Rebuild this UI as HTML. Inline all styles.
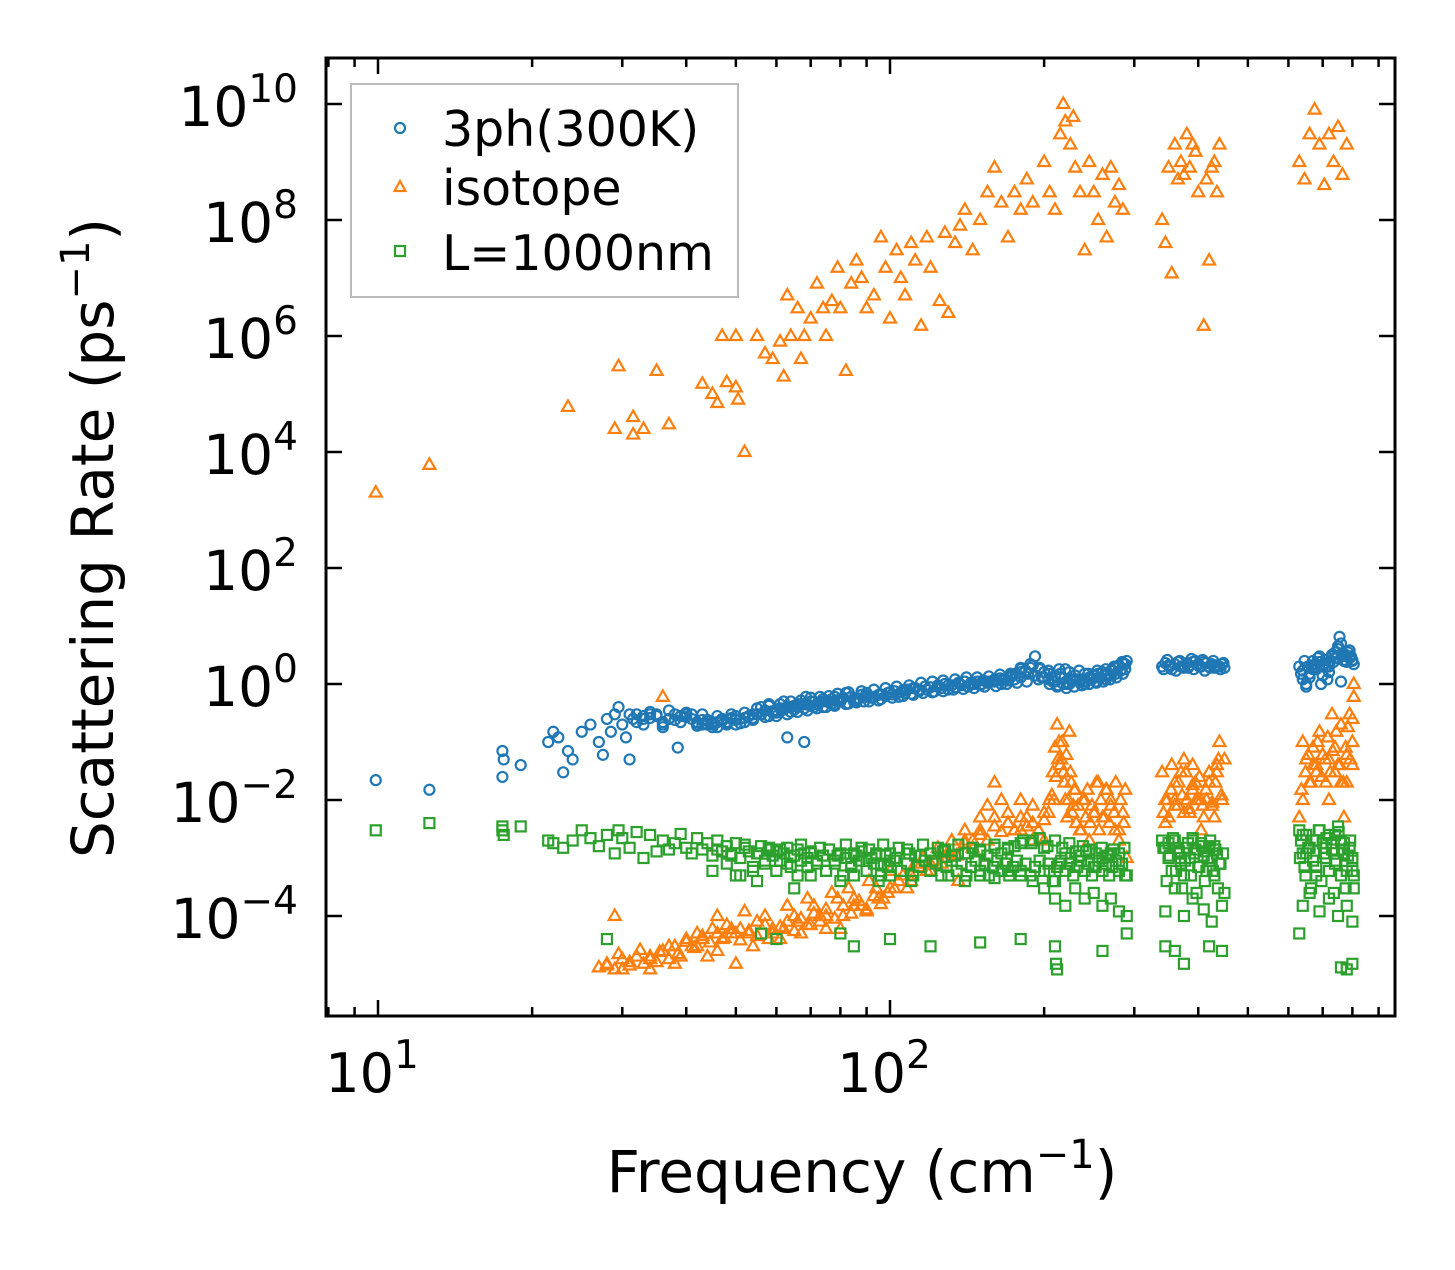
<!DOCTYPE html>
<html><head><meta charset="utf-8"><style>
html,body{margin:0;padding:0;background:#fff}
svg text{font-family:"DejaVu Sans","Liberation Sans",sans-serif;fill:#000}
</style></head><body>
<svg id="chart" width="1455" height="1265" viewBox="0 0 1455 1265" xmlns="http://www.w3.org/2000/svg">
<g id="marks"></g>
<rect x="326" y="58" width="1069" height="958" fill="none" stroke="#000" stroke-width="3"/>
<g id="axes"></g>
<text x="862" y="1192" font-size="58" text-anchor="middle">Frequency (cm<tspan font-size="40" dy="-24">−1</tspan><tspan dy="24">)</tspan></text>
<text transform="translate(113,538) rotate(-90)" font-size="58" text-anchor="middle">Scattering Rate (ps<tspan font-size="40" dy="-24">−1</tspan><tspan dy="24">)</tspan></text>
<g>
<rect x="351" y="84" width="387" height="213" fill="#fff" stroke="#bbb" stroke-width="2"/>
<circle cx="400" cy="128" r="5" fill="none" stroke="#1f77b4" stroke-width="2.2"/>
<text x="442" y="146" font-size="49">3ph(300K)</text>
<path d="M400,181 L405.5,191 L394.5,191 Z" fill="none" stroke="#ff7f0e" stroke-width="2.2"/>
<text x="442" y="205" font-size="49">isotope</text>
<rect x="395" y="246" width="10" height="10" fill="none" stroke="#2ca02c" stroke-width="2.2"/>
<text x="442" y="270" font-size="49">L=1000nm</text>
</g>
</svg>
<script>
// ---- data: 3ph (blue) ----
const blueFreqA=[9.9,12.6,17.5,17.6,17.5,19,21.5,22,22.5,23,23.5,24,25,26,27,27.5,28,28.5,29,29.5,30,30.5,31,31.5,32,33,34,35,36,37,38,38.5,39,40,41,42,43,44,45,46,47,48,49,50,52,54,56,58,60,62,63,64,66,68,68.5,70,72,74,76,78,80,82,84,86,88,90];
const blueRateA=[0.022,0.015,0.07,0.05,0.025,0.04,0.1,0.15,0.12,0.03,0.07,0.05,0.15,0.2,0.1,0.06,0.25,0.15,0.3,0.4,0.2,0.12,0.05,0.25,0.3,0.25,0.3,0.28,0.22,0.25,0.3,0.08,0.28,0.3,0.25,0.22,0.2,0.24,0.2,0.22,0.25,0.22,0.25,0.28,0.26,0.3,0.4,0.45,0.35,0.5,0.12,0.4,0.45,0.1,0.6,0.5,0.45,0.55,0.5,0.6,0.55,0.7,0.6,0.5,0.65,0.7];
const blueFreqB=[31,33,35,37,39,41,43,45,47,49,51,53,55,57,59,61,63,65,67,69,71,73,75,77,79,81,84,87,90,93,96,99,102,105,108,111,114,117,120,124,128,132,136,140,144,148,152,156,160,164,168,172,176,180,184,188,192,196,200,205,210,215,220,225,230,235,240,245,250,255,260,265,270,275,280,285,290];
const blueRateB=[0.3,0.28,0.3,0.25,0.28,0.3,0.24,0.22,0.24,0.26,0.25,0.28,0.3,0.35,0.32,0.38,0.4,0.42,0.45,0.44,0.5,0.48,0.52,0.55,0.5,0.58,0.6,0.56,0.62,0.6,0.66,0.7,0.75,0.72,0.8,0.85,0.8,0.9,0.88,0.95,1.0,0.95,1.05,1.1,1.0,1.1,1.15,1.1,1.2,1.25,1.2,1.4,1.5,1.8,1.7,1.9,3.0,1.8,1.6,1.5,1.4,1.5,1.8,1.2,1.4,1.2,1.5,1.3,1.4,1.5,1.6,1.5,1.7,1.9,2.1,2.3,2.5];
const blueFreqC=[32,34,36,38,40,42,44,46,48,50,52,54,56,58,60,62,64,66,68,70,72,74,76,78,80,83,86,89,92,95,98,101,104,107,110,114,118,122,126,130,134,138,142,146,150,155,160,165,170,175,180,186,192,198,204,210,216,222,228,234,240,246,252,258,264,270,276,282,288];
const blueRateC=[0.22,0.26,0.2,0.24,0.27,0.2,0.23,0.18,0.21,0.24,0.22,0.26,0.3,0.28,0.32,0.36,0.33,0.4,0.38,0.42,0.45,0.4,0.48,0.44,0.5,0.46,0.55,0.5,0.58,0.52,0.62,0.66,0.6,0.7,0.68,0.75,0.8,0.74,0.85,0.8,0.88,0.95,0.9,1.0,0.95,1.05,1.1,1.0,1.15,1.2,1.3,1.5,1.4,1.3,1.2,1.1,1.3,1.0,1.2,1.1,1.0,1.2,1.1,1.3,1.2,1.4,1.5,1.7,1.8];
const blueFreqD=[44,47,50,53,56,59,62,65,68,71,74,77,80,85,90,95,100,106,112,118,124,130,137,144,151,158,165,172,180,190,200,208,212,218,224,232,240,248,256,264,272,280,288];
const blueRateD=[0.2,0.23,0.2,0.28,0.3,0.34,0.38,0.36,0.45,0.4,0.5,0.46,0.55,0.5,0.6,0.65,0.72,0.78,0.85,0.8,0.9,0.95,1.0,1.05,1.0,1.1,1.15,1.3,1.6,2.1,1.3,1.1,0.9,1.0,1.0,1.2,1.1,1.2,1.3,1.4,1.7,2.0,2.2];
const blueFreqE=[340,345,350,355,360,365,370,375,380,385,390,395,400,405,410,415,420,425,430,435,440,445,450,342,352,362,372,382,392,402,412,422,432,442,348,368,388,408,428,448];
const blueRateE=[2.0,2.3,2.1,1.8,2.2,2.4,2.0,1.9,2.3,2.1,2.4,2.5,2.2,2.0,2.4,2.3,2.0,2.2,1.9,2.1,2.0,2.2,1.9,1.8,2.0,1.7,2.0,1.9,1.8,2.0,1.7,1.9,2.1,1.8,2.6,2.5,2.7,2.6,2.5,2.3];
const blueFreqF=[630,635,640,645,650,655,660,665,670,675,680,685,690,695,700,705,710,715,720,725,730,735,740,745,750,755,760,765,770,775,780,785,790,795,800,805,640,660,680,700,720,740,760,780,800,650,670,690,710,730,750,770,790];
const blueRateF=[2.0,1.5,1.2,2.5,0.9,2.0,1.5,2.1,2.5,2.0,1.8,2.8,3.0,1.0,1.4,2.2,2.6,1.2,2.0,2.5,3.0,2.4,3.5,2.8,4.0,6.5,5.0,3.0,2.5,3.2,2.4,3.5,2.8,3.0,2.5,2.2,1.7,1.3,2.2,2.0,1.6,2.8,1.1,3.0,2.6,1.0,1.8,2.4,2.0,3.2,4.5,2.6,3.8];
const blueFreqG=[33,36,39,42,45,48,51,54,57,60,63,66,69,72,75,78,82,86,91,96,101,106,111,116,121,127,133,139,146,153,161,169,177,185,195,205,213,221,229,237,245,253,261,269,277,285];
const blueRateG=[0.2,0.18,0.22,0.19,0.18,0.2,0.21,0.24,0.27,0.28,0.3,0.33,0.35,0.38,0.4,0.42,0.45,0.48,0.5,0.55,0.58,0.62,0.65,0.7,0.72,0.75,0.8,0.82,0.85,0.9,0.92,1.0,1.05,1.1,1.2,1.0,0.95,0.85,0.9,0.95,1.0,1.05,1.1,1.2,1.3,1.5];
const blueFreqH=[34,37,40,43,46,49,52,55,58,61,64,67,70,73,76,79,83,88,93,98,103,109,115,121,127,134,141,148,156,164,172,180,188,196,204,214,224,234,244,254,264,274,284];
const blueRateH=[0.33,0.35,0.32,0.3,0.28,0.3,0.32,0.38,0.42,0.45,0.5,0.52,0.58,0.6,0.62,0.68,0.72,0.75,0.8,0.85,0.9,0.95,1.05,1.1,1.15,1.2,1.3,1.3,1.35,1.45,1.5,1.9,2.2,1.9,1.7,1.8,1.6,1.7,1.5,1.7,1.8,2.0,2.4];
// ---- data: isotope (orange) ----
const isoFreqA=[9.9,12.6,23.5,29.5,29,31.5,31.5,33,35,37,43,45,46,47,48,50,50,50.5,52,55,57,59,61,62,63,64,66,67,68,70,72,74,75,77,79,80,82,84,86,88,90,93,96,98,100,103,105,107,110,112,115,118,120,125,128,130,134,137,140,145,150,155,160,165,170,175,180,185,190,200,205,210,215,218,220,225,228,230,235,240,245,250,255,260,265,270,275,280,285,340,345,350,355,360,365,370,375,380,385,390,395,400,410,415,420,425,430,435,440,630,645,660,675,690,705,720,735,750,765,780,795,805];
const isoRateA=[2e3,6e3,6e4,3e5,2.5e4,4e4,2e4,2.5e4,2.5e5,3e4,1.5e5,1e5,7e4,1e6,1.6e5,1e6,1.3e5,8e4,1e4,1e6,5e5,4e5,8e5,2e5,5e6,1e6,3e6,4e5,1e6,2e6,8e6,3e6,1e6,4e6,1.5e7,3e6,2.5e5,8e6,2e7,1e7,3e6,5e6,5e7,1.5e7,2e6,3e7,1e7,5e6,4e7,2e7,1.5e6,5e7,1.5e7,4e6,6e7,2.5e6,4e7,8e7,1.5e8,3e7,1e8,3e8,8e8,2e8,5e7,3e8,1.5e8,5e8,2e8,1e9,3e8,1.5e8,3e9,1e10,5e9,2e9,6e9,8e8,3e8,3e7,1e9,3e8,1e8,6e8,5e7,8e8,2e8,4e8,1.5e8,1e8,4e7,8e8,1.2e7,2e9,5e8,1e9,6e8,3e9,8e8,2e9,1.5e9,3e8,1.5e6,5e8,2e7,8e8,1e9,3e8,2e9,1e9,5e8,3e9,8e9,2e9,4e8,3e9,1e9,4e9,6e8,2e9];
const isoFreqB=[36,27,28,29,29,30,31,32,33,34,35,36,37,38,39,40,41,42,43,44,45,46,47,48,49,50,51,52,53,55,57,59,61,63,65,67,69,71,73,75,77,79,81,83,85,88,91,94,97,100,104,108,112,116,120,124,128,132,136,140,145,150,155,160,165,170,175,180,185,190,195,200,205,208,210,212,214,216,218,220,222,224,226,228,230,235,240,245,250,255,260,265,270,275,280,285,290];
const isoRateB=[0.6,1.3e-5,1.5e-5,1.2e-5,1e-4,1.8e-5,1.4e-5,2e-5,1.5e-5,1.2e-5,1.6e-5,2.5e-5,1.8e-5,3e-5,2e-5,4e-5,3e-5,5e-5,4e-5,2e-5,6e-5,1e-4,4e-5,7e-5,5e-5,1.5e-5,6e-5,1.2e-4,5e-5,8e-5,1e-4,6e-5,4e-5,1.5e-4,1e-4,5e-5,2e-4,1.5e-4,1e-4,6e-5,2.5e-4,2e-4,1e-4,3e-4,2e-4,1.5e-4,4e-4,3e-4,2e-4,6e-4,4e-4,3e-4,8e-4,1e-3,6e-4,1.5e-3,1e-3,2e-3,4e-4,3e-3,2e-3,5e-3,8e-3,2e-2,1e-2,6e-3,3e-3,1e-2,5e-3,8e-3,3e-3,2e-3,1e-2,3e-2,8e-2,0.2,0.1,5e-2,3e-2,1e-2,5e-3,0.15,2e-2,8e-3,1.5e-2,3e-3,1e-2,2e-3,6e-3,2e-2,5e-3,1.5e-2,1e-2,3e-3,2e-3,6e-3,1e-3];
const isoFreqC=[28,29.5,31,32.5,34,35.5,37,38.5,40,41.5,43,44.5,46,47.5,49,51,53,55,57,59,61,63,65,67,69,71,73,75,78,81,84,87,90,93,96,99,30,34,38,42,46,50,54,58,62,66,70,75,80,85,90,95];
const isoRateC=[1.4e-5,2.2e-5,1.6e-5,2.6e-5,1.8e-5,2.4e-5,3e-5,2.2e-5,3.6e-5,2.8e-5,4.5e-5,3.5e-5,5e-5,4.2e-5,6e-5,3.8e-5,5.5e-5,4.5e-5,7e-5,5e-5,6.5e-5,8e-5,5.5e-5,9e-5,7e-5,1.1e-4,8e-5,1.3e-4,9e-5,1.5e-4,1.1e-4,1.8e-4,1.3e-4,2.2e-4,1.6e-4,2.5e-4,1.2e-5,2e-5,1.5e-5,3e-5,2.5e-5,5e-5,3e-5,4e-5,6e-5,8e-5,7e-5,1e-4,6e-5,1.5e-4,1.2e-4,2e-4];
const isoFreqD=[102,106,110,114,118,122,126,130,135,140,145,150,155,160,165,170,175,180,185,190,195,200,204,207,211,215,219,223,227,231,236,241,246,251,256,262,268,274,280,286,100,110,120,130,140,150,160,170,180,190,200,209,213,217,221,225,229,233,238,243,248,253,258,264,270,276,282,288];
const isoRateD=[3e-4,5e-4,4e-4,7e-4,6e-4,9e-4,8e-4,1.3e-3,1.1e-3,1.8e-3,1.5e-3,2.5e-3,2e-3,3.5e-3,2.8e-3,4e-3,3e-3,5e-3,3.5e-3,4e-3,3e-3,4.5e-3,6e-3,1.2e-2,2.5e-2,4e-2,2e-2,1e-2,6e-3,4e-3,3e-3,5e-3,4e-3,6e-3,3e-3,5e-3,4e-3,6e-3,3e-3,4e-3,3e-4,5e-4,8e-4,1.2e-3,2e-3,3e-3,5e-3,4e-3,3e-3,2e-3,6e-3,1e-2,5e-2,0.1,6e-2,3e-2,1.5e-2,8e-3,1e-2,1.5e-2,8e-3,2e-2,1e-2,1.5e-2,8e-3,2e-2,1e-2,1.5e-2];
const isoFreqE=[340,345,350,355,360,365,370,375,380,385,390,395,400,405,410,415,420,425,430,435,440,445,342,348,354,360,366,372,378,384,390,396,402,408,414,420,426,432,438,444,345,360,375,390,405,420,435,450];
const isoRateE=[3e-2,1e-2,5e-3,4e-2,2e-2,8e-3,3e-2,5e-2,1e-2,6e-3,4e-2,2e-2,1e-2,3e-3,5e-3,1e-2,2e-2,8e-3,5e-3,3e-2,0.1,1e-2,6e-3,1e-2,1.5e-2,8e-3,2e-2,1.2e-2,3e-2,7e-3,1.8e-2,1e-2,2.5e-2,8e-3,1.5e-2,3e-2,9e-3,2e-2,5e-2,1.2e-2,4e-3,1e-2,6e-3,1.5e-2,1e-2,2e-2,4e-2,5e-2];
const isoFreqF=[630,640,650,660,670,680,690,700,710,720,730,740,750,760,770,780,790,800,805,805,636,648,656,664,672,684,696,708,716,724,732,744,756,768,776,784,792,800,640,660,680,700,720,740,760,780,800];
const isoRateF=[5e-3,1e-1,5e-2,2e-2,8e-2,3e-2,0.15,6e-2,2e-2,1e-2,0.3,8e-2,4e-2,0.2,5e-3,2e-2,0.3,1e-1,1.0,0.6,1.5e-2,3e-2,6e-2,2e-2,4e-2,1e-1,2.5e-2,5e-2,1.2e-1,3e-2,7e-2,1.5e-1,4e-2,2e-2,8e-2,1.8e-1,5e-2,2.5e-1,1e-2,2e-2,4e-2,6e-2,5e-2,3e-2,2e-2,6e-2,4e-2];
// ---- data: boundary L=1000nm (green) ----
const bndFreqA=[9.9,12.6,17.5,17.5,17.6,19,21.5,22,23,24,25,26,27,28,29,29.5,30,31,32,33,34,35,36,37,38,39,40,41,42,43,44,45,46,47,48,49,50,51,52,53,54,55,56,57,58,59,60,61,62,63,64,65,66,67,68,69,70,72,74,76,78,80,82,84,86,88,90,92,94,96,98,100];
const bndRateA=[3e-3,4e-3,3.5e-3,3e-3,2.5e-3,3.5e-3,2e-3,1.8e-3,1.5e-3,2e-3,3e-3,2.2e-3,1.6e-3,2.5e-3,1.2e-3,3e-3,2.2e-3,1.5e-3,2.8e-3,1e-3,2.5e-3,1.3e-3,2e-3,1.4e-3,1.8e-3,2.6e-3,1.5e-3,1.2e-3,2.2e-3,1.4e-3,1.8e-3,1.1e-3,2e-3,1.3e-3,1.6e-3,1.2e-3,1.8e-3,1e-3,1.5e-3,1.3e-3,6e-4,1.2e-3,1.6e-3,8e-4,1.4e-3,1.1e-3,1.3e-3,9e-4,1.2e-3,1.5e-3,7e-4,1.1e-3,1.4e-3,9e-4,1.2e-3,1e-3,1.3e-3,8e-4,1.1e-3,1.4e-3,9e-4,1.2e-3,1e-3,8e-4,1.1e-3,1.3e-3,9e-4,1e-3,1.2e-3,8e-4,1.1e-3,9e-4];
const bndFreqB=[45,48,51,54,57,60,63,66,69,72,75,78,81,84,87,90,93,96,99,102,105,108,111,114,117,120,123,126,129,132,135,138,141,144,147,150,153,156,159,162,165,168,171,174,177,180,184,188,192,196,200,204,208,212,216,220,224,228,232,236,240,244,248,252,256,260,264,268,272,276,280,284,288];
const bndRateB=[6e-4,8e-4,5e-4,7e-4,9e-4,6e-4,8e-4,5e-4,7e-4,9e-4,6e-4,8e-4,5e-4,7e-4,9e-4,6e-4,8e-4,5e-4,7e-4,9e-4,6e-4,8e-4,5e-4,7e-4,9e-4,6e-4,8e-4,5e-4,7e-4,9e-4,6e-4,8e-4,5e-4,7e-4,9e-4,6e-4,8e-4,5e-4,7e-4,9e-4,6e-4,8e-4,5e-4,7e-4,9e-4,6e-4,8e-4,5e-4,7e-4,9e-4,6e-4,8e-4,4e-4,7e-4,9e-4,6e-4,8e-4,5e-4,7e-4,9e-4,6e-4,8e-4,5e-4,7e-4,9e-4,6e-4,8e-4,5e-4,7e-4,9e-4,6e-4,8e-4,5e-4];
const bndFreqC=[46,49,52,55,58,61,64,67,70,73,76,79,82,85,88,91,94,97,100,104,108,112,116,120,124,128,132,136,140,145,150,155,160,165,170,175,182,189,196,203,210,217,224,231,238,245,252,259,266,273,280,287,103,109,115,121,127,134,142,150,160,170,180,190,200,205,210,215,220,226,234,242,250,260,270,280,290];
const bndRateC=[1.4e-3,1.1e-3,1.7e-3,1.2e-3,1.5e-3,1.4e-3,1.1e-3,1.7e-3,1.2e-3,1.5e-3,1.4e-3,1.1e-3,1.7e-3,1.2e-3,1.5e-3,1.4e-3,1.1e-3,1.7e-3,1.2e-3,1.5e-3,1.4e-3,1.1e-3,1.7e-3,1.2e-3,1.5e-3,1.4e-3,1.1e-3,1.7e-3,1.2e-3,1.5e-3,1.4e-3,1.1e-3,1.7e-3,1.2e-3,1.5e-3,1.6e-3,2e-3,1.8e-3,2.2e-3,1.6e-3,2e-3,1.5e-3,1.8e-3,1.3e-3,1.6e-3,1.4e-3,1.2e-3,1.5e-3,1.1e-3,1.4e-3,1.2e-3,1.5e-3,1e-3,1.2e-3,1.1e-3,9e-4,1.3e-3,1.1e-3,1.2e-3,1.3e-3,1.5e-3,1.4e-3,1.8e-3,2e-3,1.5e-3,6e-4,4e-4,8e-4,1.2e-3,1e-3,1.1e-3,1.3e-3,7e-4,1e-3,1.2e-3,8e-4,5e-4];
const bndFreqD=[340,345,350,355,360,365,370,375,380,385,390,395,400,405,410,415,420,425,430,435,440,445,450,345,360,375,390,410,425,440,342,347,352,357,362,367,372,377,382,387,392,397,402,407,412,417,422,427,432,437,442,447,350,370,390,410,430,450];
const bndRateD=[2e-3,1.5e-3,1e-3,6e-4,2e-3,1.2e-3,8e-4,5e-4,1.5e-3,1e-3,2.2e-3,1.4e-3,7e-4,1.8e-3,1.1e-3,6e-4,1.5e-3,9e-4,5e-4,1.2e-3,8e-4,1.5e-4,2.5e-4,1.2e-4,3e-4,1e-4,2e-4,1.3e-4,8e-5,8e-4,1.5e-3,4e-4,1.1e-3,2.2e-3,6e-4,1.3e-3,3e-4,9e-4,1.8e-3,5e-4,1.2e-3,2.5e-4,7e-4,1.6e-3,4e-4,1e-3,2e-3,6e-4,1.4e-3,3e-4,8e-4,1.2e-3,1.8e-3,1e-3,2e-3,1.3e-3,1.6e-3];
const bndFreqE=[630,635,640,645,650,660,670,680,690,700,710,720,730,740,750,760,770,780,790,800,805,640,660,690,720,750,780,800,805,632,640,648,656,664,672,680,688,696,704,712,720,728,736,744,752,760,768,776,784,792,800,650,680,710,740,770,800];
const bndRateE=[3e-3,2e-3,1.2e-3,7e-4,2.5e-3,1.5e-3,9e-4,5e-4,3e-3,1.8e-3,1e-3,2.5e-3,1.4e-3,8e-4,3.5e-3,2e-3,1.2e-3,6e-4,1.5e-3,9e-4,5e-4,1.5e-4,2.5e-4,1.2e-4,2e-4,1e-4,1.5e-4,8e-5,3e-4,1e-3,2.5e-3,5e-4,1.5e-3,3e-4,2e-3,7e-4,3e-3,4e-4,1.2e-3,2.2e-3,6e-4,1.8e-3,2.5e-4,9e-4,2.8e-3,5e-4,1.4e-3,3e-4,1.1e-3,2e-3,6e-4,1.2e-3,2e-3,1.5e-3,2.5e-3,1.8e-3,1e-3];
const bndFreqF=[28,56,60,80,85,100,120,150,180,210,211,212,260,290,345,360,375,420,445,630,760,780,800,50,55,60,65,70,75,80,85,90,95,100,110,120,130,140,150,160,170,180,190,200,210,220,230,240,250,260,270,280,290];
const bndRateF=[4e-5,5e-5,4e-5,5e-5,3e-5,4e-5,3e-5,3.5e-5,4e-5,3e-5,1.5e-5,1.2e-5,2.5e-5,5e-5,3e-5,2.5e-5,1.5e-5,3e-5,2.5e-5,5e-5,1.3e-5,1.2e-5,1.5e-5,5e-4,4e-4,6e-4,3e-4,5e-4,6e-4,4e-4,5e-4,6e-4,4e-4,5e-4,4e-4,6e-4,5e-4,4e-4,5e-4,4.5e-4,6e-4,5e-4,4e-4,3e-4,2e-4,1.5e-4,3e-4,2e-4,2.5e-4,1.5e-4,2e-4,1.2e-4,1e-4];
const xTickVals=[10,100];
const xTickLabels=["10","10"];
const xTickExps=["1","2"];
const yTickExps=[10,8,6,4,2,0,-2,-4];

// ---- axes ----
const X0=378, DEC=512, Y0=684, YD=58;
const xs=f=>X0+(Math.log10(f)-1)*DEC;
const ys=v=>Y0-Math.log10(v)*YD;
const NS="http://www.w3.org/2000/svg";
const marks=document.getElementById('marks'), axes=document.getElementById('axes');
function mk(tag,attrs,parent){const e=document.createElementNS(NS,tag);for(const k in attrs)e.setAttribute(k,attrs[k]);parent.appendChild(e);return e;}
const inPlot=(x,y)=>x>=326&&x<=1395&&y>=58&&y<=1016;

[[blueFreqA,blueRateA],[blueFreqB,blueRateB],[blueFreqC,blueRateC],[blueFreqD,blueRateD],[blueFreqE,blueRateE],[blueFreqF,blueRateF],[blueFreqG,blueRateG],[blueFreqH,blueRateH]].forEach(([F,R])=>{
 F.forEach((f,i)=>{if(R[i]===undefined)return;const x=xs(f),y=ys(R[i]);if(!inPlot(x,y))return;
 const c=mk('circle',{cx:x,cy:y,r:5,fill:'none',stroke:'#1f77b4','stroke-width':2.2},marks);
 
 });});
[[isoFreqA,isoRateA],[isoFreqB,isoRateB],[isoFreqC,isoRateC],[isoFreqD,isoRateD],[isoFreqE,isoRateE],[isoFreqF,isoRateF]].forEach(([F,R])=>{
 F.forEach((f,i)=>{if(R[i]===undefined)return;const x=xs(f),y=ys(R[i]);if(!inPlot(x,y))return;
 const p=mk('path',{d:`M${x},${y-6.5} L${x+6},${y+4} L${x-6},${y+4} Z`,fill:'none',stroke:'#ff7f0e','stroke-width':2.2},marks);
 
 });});
[[bndFreqA,bndRateA],[bndFreqB,bndRateB],[bndFreqC,bndRateC],[bndFreqD,bndRateD],[bndFreqE,bndRateE],[bndFreqF,bndRateF]].forEach(([F,R])=>{
 F.forEach((f,i)=>{if(R[i]===undefined)return;const x=xs(f),y=ys(R[i]);if(!inPlot(x,y))return;
 const r=mk('rect',{x:x-5,y:y-5,width:10,height:10,fill:'none',stroke:'#2ca02c','stroke-width':2.2},marks);
 
 });});

// ticks
for(let d=0;d<=3;d++){for(let m=1;m<=9;m++){const f=Math.pow(10,d)*m;const x=xs(f);if(x<327||x>1394)continue;
 const L=m===1?16:9;
 const t1=mk('line',{x1:x,x2:x,y1:1016,y2:1016-L,stroke:'#000','stroke-width':2.5},axes);
 
 
 const t2=mk('line',{x1:x,x2:x,y1:58,y2:58+L,stroke:'#000','stroke-width':2.5},axes);
 
 }}
xTickVals.forEach((v,i)=>{const x=xs(v);
 const t=mk('text',{x:x-6,y:1092,'font-size':54,'text-anchor':'middle'},axes);
 
 
 t.textContent=xTickLabels[i];
 const s=mk('tspan',{'font-size':39,dy:-24},t);s.textContent=xTickExps[i];});
yTickExps.forEach(e=>{const y=ys(Math.pow(10,e));
 const a=mk('line',{x1:326,x2:342,y1:y,y2:y,stroke:'#000','stroke-width':2.5},axes);
 
 
 const b=mk('line',{x1:1379,x2:1395,y1:y,y2:y,stroke:'#000','stroke-width':2.5},axes);
 
 
 const t=mk('text',{x:298,y:y+22,'font-size':55,'text-anchor':'end'},axes);
 
 
 const base=mk('tspan',{},t);base.textContent='10';
 const s=mk('tspan',{'font-size':39,dy:-24},t);s.textContent=e<0?'−'+(-e):String(e);});
</script>
</body></html>
